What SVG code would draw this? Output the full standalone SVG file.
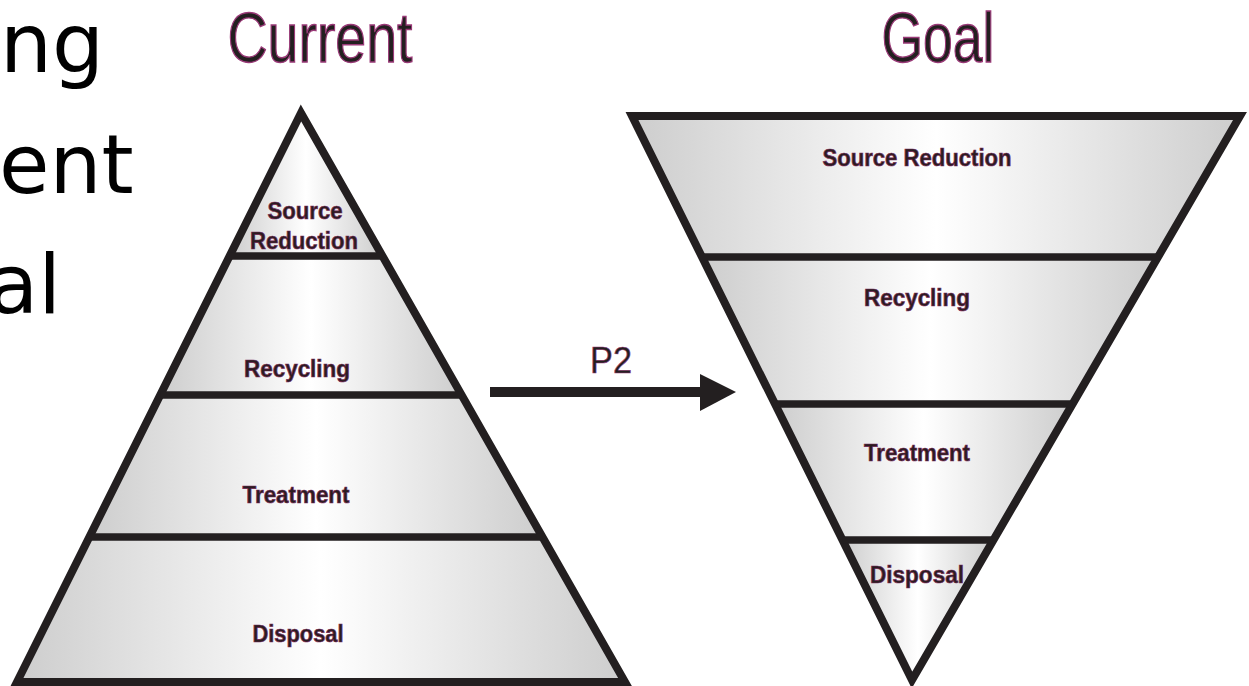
<svg xmlns="http://www.w3.org/2000/svg" width="1249" height="686" viewBox="0 0 1249 686">
  <style>
    .big { font-family: "DejaVu Sans", sans-serif; font-size: 82px; fill: #000; }
    .head { font-family: "Liberation Sans", Arial, sans-serif; font-size: 70px; fill: #231f20; stroke: #9a3a78; stroke-width: 1.4; text-anchor: middle; }
    .lbl { font-family: "Liberation Sans", Arial, sans-serif; font-weight: bold; font-size: 24px; fill: #2a1c20; stroke: #7a2a5a; stroke-width: 0.7; text-anchor: middle; }
    .tier { fill: url(#g); stroke: none; }
    .edge { fill: none; stroke: #231f20; stroke-width: 8; stroke-linejoin: miter; }
    .div { stroke: #231f20; stroke-width: 7.5; }
  </style>
  <defs>
    <linearGradient id="g" x1="0" y1="0" x2="1" y2="0">
      <stop offset="0" stop-color="#cdcdcd"/>
      <stop offset="0.5" stop-color="#ffffff"/>
      <stop offset="1" stop-color="#cdcdcd"/>
    </linearGradient>
  </defs>
  <rect width="1249" height="686" fill="#ffffff"/>

  <g id="title">
    <text class="big" x="0" y="72">ng</text>
    <text class="big" x="-1" y="193">ent</text>
    <text class="big" x="-12" y="313">al</text>
  </g>

  <g id="current-header"><text class="head" x="320" y="62" textLength="185" lengthAdjust="spacingAndGlyphs">Current</text></g>
  <g id="goal-header"><text class="head" x="938" y="62" textLength="113" lengthAdjust="spacingAndGlyphs">Goal</text></g>

  <g id="current-pyramid">
    <g id="cur-source-reduction">
      <polygon class="tier" points="301,113 382.4,256 229.6,256"/>
      <text class="lbl" x="305" y="219" textLength="75" lengthAdjust="spacingAndGlyphs">Source</text>
      <text class="lbl" x="304" y="249" textLength="108" lengthAdjust="spacingAndGlyphs">Reduction</text>
    </g>
    <g id="cur-recycling">
      <polygon class="tier" points="229.6,256 382.4,256 461.6,395 160.3,395"/>
      <text class="lbl" x="297" y="377" textLength="106" lengthAdjust="spacingAndGlyphs">Recycling</text>
    </g>
    <g id="cur-treatment">
      <polygon class="tier" points="160.3,395 461.6,395 542.4,537 89.4,537"/>
      <text class="lbl" x="296" y="503" textLength="107" lengthAdjust="spacingAndGlyphs">Treatment</text>
    </g>
    <g id="cur-disposal">
      <polygon class="tier" points="89.4,537 542.4,537 625,682 17,682"/>
      <text class="lbl" x="298" y="642" textLength="91" lengthAdjust="spacingAndGlyphs">Disposal</text>
    </g>
    <polygon class="edge" points="301,113 625,682 17,682"/>
    <line class="div" x1="229.6" y1="256" x2="382.4" y2="256"/>
    <line class="div" x1="160.3" y1="395" x2="461.6" y2="395"/>
    <line class="div" x1="89.4" y1="537" x2="542.4" y2="537"/>
  </g>

  <g id="goal-pyramid">
    <g id="goal-source-reduction">
      <polygon class="tier" points="632,116 1240,116 1158,257 702,257"/>
      <text class="lbl" x="917" y="166" textLength="189" lengthAdjust="spacingAndGlyphs">Source Reduction</text>
    </g>
    <g id="goal-recycling">
      <polygon class="tier" points="702,257 1158,257 1072.5,404 775,404"/>
      <text class="lbl" x="917" y="306" textLength="106" lengthAdjust="spacingAndGlyphs">Recycling</text>
    </g>
    <g id="goal-treatment">
      <polygon class="tier" points="775,404 1072.5,404 993.4,540 842.5,540"/>
      <text class="lbl" x="917" y="461" textLength="106" lengthAdjust="spacingAndGlyphs">Treatment</text>
    </g>
    <g id="goal-disposal">
      <polygon class="tier" points="842.5,540 993.4,540 912,680"/>
      <text class="lbl" x="917" y="583" textLength="94" lengthAdjust="spacingAndGlyphs">Disposal</text>
    </g>
    <polygon class="edge" points="632,116 1240,116 912,680"/>
    <line class="div" x1="702" y1="257" x2="1158" y2="257"/>
    <line class="div" x1="775" y1="404" x2="1072.5" y2="404"/>
    <line class="div" x1="842.5" y1="540" x2="995" y2="540"/>
  </g>

  <g id="connectors">
    <line x1="490" y1="392" x2="700" y2="392" stroke="#231f20" stroke-width="10"/>
    <polygon points="700,374 736,392 700,411" fill="#231f20"/>
    <text class="head" x="611" y="373" textLength="42" lengthAdjust="spacingAndGlyphs" style="font-size:36px; stroke-width:0.6">P2</text>
  </g>
</svg>
